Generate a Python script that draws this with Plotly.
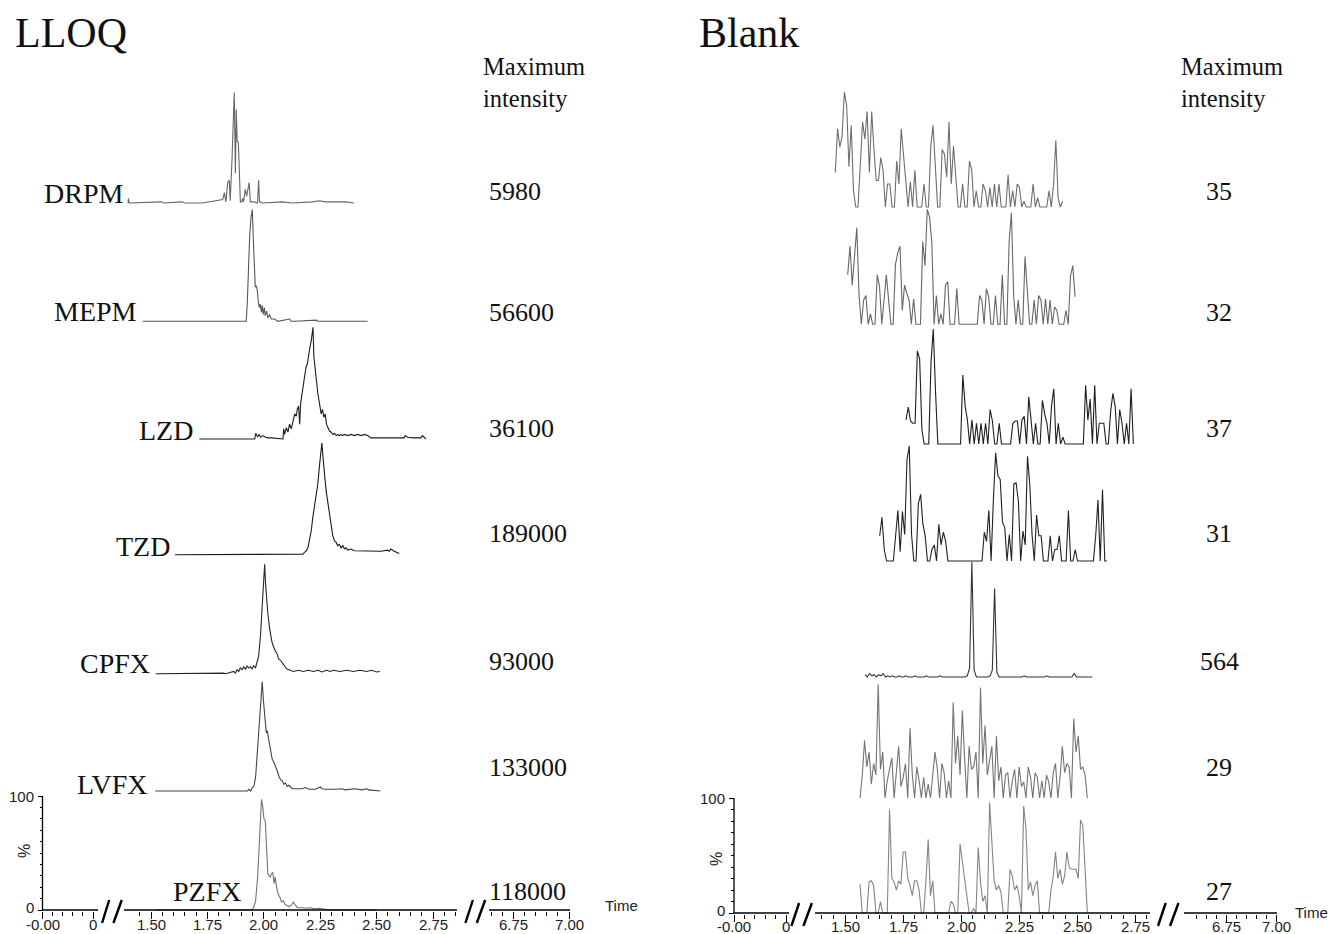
import plotly.graph_objects as go

W, H = 1336, 934
SERIF = "Liberation Serif"
SANS = "Liberation Sans"

# ---------------- data ----------------
compounds = ["DRPM", "MEPM", "LZD", "TZD", "CPFX", "LVFX", "PZFX"]
lloq_max_intensity = ["5980", "56600", "36100", "189000", "93000", "133000", "118000"]
blank_max_intensity = ["35", "32", "37", "31", "564", "29", "27"]
tick_text = ["-0.00", "0", "1.50", "1.75", "2.00", "2.25", "2.50", "2.75", "6.75", "7.00"]
mid_ticks = [1.50, 1.75, 2.00, 2.25, 2.50, 2.75]
y_tick_vals = [0, 100]
y_tick_text = ["0", "100"]

# LLOQ chromatograms: retention time (min) / relative intensity (%)
drpm_t = [1.530, 1.532, 1.535, 1.680, 1.690, 1.770, 1.780, 1.860, 1.950, 1.957, 1.964, 1.972, 1.979, 1.983,
          1.991, 1.997, 2.001, 2.006, 2.010, 2.014, 2.019, 2.023, 2.028, 2.034, 2.038, 2.042, 2.050, 2.056,
          2.061, 2.067, 2.072, 2.089, 2.104, 2.109, 2.113, 2.126, 2.215, 2.259, 2.347, 2.377, 2.406, 2.494, 2.531]
drpm_v = [0, 4, 0, 1, 0, 1, 0, 0, 3, 9, 1, 18, 20, 2, 38, 70, 97, 26, 82, 54, 53, 32, 1, 1, 4, 1, 12, 6,
          12, 18, 1, 1, 0, 20, 1, 0, 1, 0, 1, 2, 1, 1, 0]

mepm_t = [1.530, 1.989, 1.994, 1.998, 2.004, 2.010, 2.016, 2.020, 2.025, 2.029, 2.034, 2.038, 2.042, 2.047,
          2.051, 2.056, 2.060, 2.064, 2.069, 2.073, 2.079, 2.085, 2.092, 2.100, 2.115, 2.129, 2.181, 2.188,
          2.203, 2.299, 2.306, 2.527]
mepm_v = [0, 0, 18, 41, 74, 91, 98, 74, 50, 30, 31, 27, 18, 12, 15, 8, 14, 6, 12, 5, 9, 3, 6, 2, 2, 0, 2, 0,
          0, 1, 0, 0]

lzd_t = [1.530, 1.776, 1.780, 1.788, 1.795, 1.802, 1.813, 1.823, 1.835, 1.850, 1.901, 1.904, 1.908, 1.916,
         1.923, 1.930, 1.938, 1.945, 1.953, 1.960, 1.964, 1.970, 1.975, 1.979, 1.985, 1.991, 1.997, 2.003,
         2.009, 2.014, 2.020, 2.026, 2.031, 2.034, 2.038, 2.042, 2.048, 2.056, 2.063, 2.070, 2.076, 2.082,
         2.088, 2.094, 2.100, 2.107, 2.115, 2.122, 2.129, 2.137, 2.144, 2.151, 2.159, 2.166, 2.173, 2.188,
         2.203, 2.218, 2.232, 2.247, 2.262, 2.276, 2.291, 2.438, 2.443, 2.453, 2.483, 2.512, 2.519, 2.534]
lzd_v = [0, 0, 5, 2, 4, 1.5, 3, 1.5, 1, 1, 0, 9, 4, 10, 6, 13, 9, 16, 22, 20, 26, 29, 13, 31, 39, 48, 57,
         63, 66, 75, 80, 86, 92, 98, 72, 63, 51, 39, 31, 22, 26, 19, 22, 13, 10, 7, 6, 4, 5, 3, 4, 3, 4, 3,
         4, 3, 4, 3, 4, 3, 4, 3, 1, 1, 3, 1.5, 1, 1, 3, 0]

tzd_t = [1.530, 2.097, 2.104, 2.112, 2.119, 2.126, 2.134, 2.141, 2.148, 2.156, 2.163, 2.170, 2.176, 2.181,
         2.185, 2.189, 2.194, 2.200, 2.206, 2.212, 2.218, 2.223, 2.229, 2.237, 2.244, 2.251, 2.259, 2.266,
         2.274, 2.281, 2.288, 2.296, 2.311, 2.325, 2.354, 2.384, 2.413, 2.443, 2.472, 2.480, 2.487, 2.502, 2.524]
tzd_v = [0, 0.5, 2, 3.5, 6, 12, 21, 33, 42, 50, 62, 77, 91, 98, 88, 77, 68, 56, 47, 39, 30, 24, 17, 12, 11,
         8, 9, 6, 8, 5, 6, 4, 5, 3.5, 3.5, 3, 3.5, 3, 4, 3, 5, 3, 1]

cpfx_t = [1.530, 1.729, 1.736, 1.832, 1.840, 1.861, 1.876, 1.883, 1.891, 1.898, 1.905, 1.913, 1.920, 1.928,
          1.935, 1.942, 1.950, 1.957, 1.964, 1.972, 1.979, 1.986, 1.994, 2.000, 2.004, 2.009, 2.013, 2.017,
          2.022, 2.027, 2.034, 2.038, 2.044, 2.048, 2.053, 2.060, 2.067, 2.075, 2.082, 2.089, 2.097, 2.104,
          2.112, 2.119, 2.126, 2.141, 2.163, 2.185, 2.207, 2.229, 2.251, 2.266, 2.288, 2.303, 2.318, 2.347,
          2.377, 2.406, 2.435, 2.465, 2.487, 2.509, 2.524]
cpfx_v = [0, 0.5, 0, 0.5, 0, 1, 2, 0.5, 3.5, 2, 5, 3.5, 6, 4, 7, 5, 6, 4, 7, 5, 10, 15, 32, 53, 70, 85, 96,
          79, 64, 53, 41, 34, 29, 26, 23, 20, 18, 13, 12, 10, 7, 6, 4, 3.5, 3, 2, 3, 2, 3, 2, 3, 1.5, 3, 2,
          3, 2, 3, 2, 3, 2, 3, 1.5, 2]

lvfx_t = [1.530, 1.938, 1.945, 1.953, 1.960, 1.967, 1.975, 1.982, 1.989, 1.995, 2.000, 2.004, 2.009, 2.013,
          2.017, 2.022, 2.026, 2.031, 2.036, 2.042, 2.048, 2.056, 2.063, 2.070, 2.078, 2.085, 2.092, 2.100,
          2.107, 2.115, 2.122, 2.137, 2.159, 2.181, 2.196, 2.210, 2.240, 2.262, 2.269, 2.284, 2.328, 2.357,
          2.372, 2.416, 2.446, 2.468, 2.475, 2.527]
lvfx_v = [0, 0, 1.5, 0, 3, 4, 13, 34, 51, 75, 89, 96, 80, 69, 60, 51, 53, 47, 39, 34, 28, 25, 22, 18, 13,
          10, 9, 6, 7, 4, 5, 2, 2, 2, 3, 1.5, 1.5, 3.5, 2, 1.5, 1.5, 2, 1, 2, 1, 2, 1, 0]

pzfx_t = [1.530, 1.958, 1.967, 1.976, 1.985, 1.991, 1.997, 2.002, 2.008, 2.013, 2.019, 2.025, 2.030, 2.036,
          2.041, 2.047, 2.052, 2.058, 2.063, 2.069, 2.076, 2.084, 2.091, 2.099, 2.106, 2.115, 2.125, 2.134,
          2.143, 2.153, 2.162, 2.181, 2.199, 2.218, 2.236, 2.255, 2.292, 2.311, 2.515]
pzfx_v = [0, 0, 2, 8, 29, 58, 84, 97, 90, 80, 78, 58, 32, 30, 29, 32, 33, 23, 29, 20, 14, 11, 7, 8, 5, 4,
          3, 4, 7, 4, 2, 2, 1.5, 2, 1, 1.5, 0.5, 0, 0]

lloq_t = [drpm_t, mepm_t, lzd_t, tzd_t, cpfx_t, lvfx_t, pzfx_t]
lloq_v = [drpm_v, mepm_v, lzd_v, tzd_v, cpfx_v, lvfx_v, pzfx_v]

# Blank chromatograms: sampled every blank_dt min from blank_t0 (relative intensity, %)
blank_t0 = 1.55
blank_dt = 0.0098
blank1 = [30, 68, 52, 62, 100, 88, 35, 71, 14, 0,
          0, 41, 74, 59, 83, 30, 83, 50, 23, 23,
          43, 32, 0, 20, 20, 0, 0, 40, 20, 68,
          43, 26, 0, 22, 0, 32, 0, 0, 0, 20,
          0, 0, 53, 71, 35, 0, 0, 50, 46, 26,
          74, 20, 53, 29, 0, 0, 20, 0, 0, 40,
          32, 0, 14, 0, 0, 20, 14, 0, 17, 0,
          20, 0, 20, 0, 0, 0, 28, 0, 14, 0,
          20, 17, 0, 5, 0, 0, 0, 20, 0, 8,
          0, 0, 0, 0, 14, 0, 20, 58, 8, 0,
          5]
blank2 = [43, 68, 34, 62, 84, 25, 0, 21, 25, 0,
          9, 0, 0, 43, 33, 0, 25, 43, 21, 0,
          0, 52, 62, 68, 12, 34, 27, 21, 0, 22,
          0, 0, 0, 72, 51, 100, 93, 71, 0, 25,
          0, 9, 0, 34, 37, 0, 0, 0, 31, 0,
          0, 0, 0, 0, 0, 0, 0, 0, 25, 21,
          0, 31, 24, 0, 0, 25, 0, 0, 43, 0,
          0, 72, 97, 25, 0, 21, 0, 0, 59, 24,
          0, 0, 21, 0, 25, 21, 0, 22, 0, 21,
          0, 15, 12, 0, 0, 0, 12, 0, 42, 51,
          24]
blank3 = [21, 32, 20, 18, 18, 81, 74, 12, 0, 0,
          0, 71, 100, 45, 0, 0, 0, 0, 0, 0,
          0, 0, 0, 0, 0, 60, 33, 21, 0, 21,
          0, 18, 0, 18, 0, 18, 0, 30, 20, 0,
          0, 18, 0, 0, 0, 0, 0, 18, 20, 20,
          0, 21, 24, 0, 41, 21, 0, 18, 0, 0,
          38, 26, 18, 0, 33, 48, 0, 18, 0, 6,
          0, 0, 0, 0, 0, 0, 0, 0, 0, 51,
          21, 39, 0, 51, 0, 18, 18, 18, 0, 0,
          28, 44, 33, 0, 30, 18, 0, 18, 0, 48,
          0]
blank4 = [22, 38, 10, 0, 0, 0, 0, 22, 44, 8,
          43, 23, 88, 100, 23, 0, 0, 50, 58, 32,
          22, 0, 0, 10, 14, 0, 32, 14, 25, 17,
          0, 0, 0, 0, 0, 0, 0, 0, 0, 0,
          0, 0, 0, 0, 0, 0, 25, 17, 44, 0,
          53, 94, 74, 71, 34, 29, 0, 23, 0, 67,
          68, 52, 0, 26, 14, 91, 67, 23, 0, 40,
          22, 22, 0, 0, 0, 22, 0, 10, 10, 22,
          0, 0, 0, 44, 0, 0, 10, 0, 0, 0,
          0, 0, 0, 0, 0, 22, 53, 0, 62, 0,
          0]
blank5 = [2, 0, 3, 1, 2, 0, 2, 1, 3, 0,
          1, 0, 1, 0, 0, 1, 0, 0, 1, 0,
          0, 0, 1, 0, 0, 0, 0, 1, 0, 0,
          0, 0, 0, 1, 0, 0, 0, 0, 0, 0,
          0, 0, 0, 0, 0, 1, 8, 100, 6, 0,
          0, 0, 0, 0, 0, 1, 6, 77, 4, 0,
          0, 0, 0, 0, 0, 0, 0, 0, 0, 0,
          1, 0, 0, 0, 0, 0, 0, 0, 0, 0,
          1, 0, 0, 0, 0, 0, 0, 0, 0, 0,
          0, 0, 3, 0, 0, 0, 0, 0, 0, 0,
          0]
blank6 = [0, 20, 50, 27, 40, 12, 30, 20, 99, 25,
          40, 0, 15, 27, 35, 0, 20, 45, 10, 18,
          30, 0, 61, 20, 0, 27, 15, 0, 18, 0,
          12, 0, 20, 40, 25, 0, 30, 22, 0, 15,
          0, 83, 30, 54, 20, 76, 35, 0, 45, 25,
          27, 40, 0, 96, 30, 63, 20, 35, 45, 0,
          54, 15, 27, 0, 20, 22, 0, 15, 25, 0,
          27, 10, 14, 0, 27, 18, 0, 22, 18, 0,
          15, 0, 20, 14, 0, 22, 30, 0, 18, 45,
          22, 30, 27, 0, 69, 40, 54, 25, 27, 20,
          0]
blank7 = [25, 0, 0, 0, 27, 28, 24, 0, 0, 10,
          0, 0, 0, 90, 30, 27, 20, 28, 25, 53,
          53, 30, 24, 15, 28, 28, 20, 0, 0, 28,
          64, 15, 28, 0, 0, 0, 0, 0, 0, 0,
          10, 8, 0, 0, 60, 44, 28, 15, 0, 0,
          4, 0, 57, 27, 10, 15, 0, 96, 61, 28,
          20, 24, 18, 0, 0, 0, 38, 32, 20, 24,
          15, 0, 93, 73, 20, 27, 15, 24, 28, 0,
          0, 0, 0, 0, 20, 32, 53, 30, 38, 25,
          32, 53, 40, 38, 38, 38, 30, 81, 76, 38,
          0]
blank_v = [blank1, blank2, blank3, blank4, blank5, blank6, blank7]

# ---------------- layout / style ----------------
# pixel anchors: px of the 1.50 tick, px per minute, y px of 0 %, px per %
P = {
    "L": dict(px150=143.0, ppm=225.6, y0=902.0, ppp=1.14, dom=(15, 668), yax=34.5,
              outer=[34.5, 85.0, 505.6, 561.0], n_before=2,
              segs=[(34.5, 90.0), (116.0, 449.0), (481.0, 562.0)],
              breaks=[(94.1, 101.2), (105.4, 113.8), (457.4, 464.9), (468.8, 477.2)],
              mid_minor=(1.45, 2.85),
              start_px=[120, 134.7, 191.3, 167, 147.7, 147.3, 147],
              base_py=[195, 313.3, 431, 546.7, 665.7, 783, 902],
              colors=["#666666", "#575757", "#1e1e1e", "#1a1a1a", "#262626", "#444444", "#737373"],
              pct=(16, 843), timelab=(613, 897), ticklab_py=916),
    "R": dict(px150=837.0, ppm=232.0, y0=905.0, ppp=1.15, dom=(712, 1336), yax=726.0,
              outer=[726.0, 778.0, 1218.0, 1268.0], n_before=3,
              segs=[(726.0, 781.0), (807.0, 1142.0), (1176.0, 1269.0)],
              breaks=[(783.4, 791.1), (795.4, 803.9), (1150.0, 1157.7), (1162.0, 1170.5)],
              mid_minor=(1.40, 2.80),
              start_px=[827.3, 839.7, 898, 871.7, 857, 852, 852],
              base_py=[199, 316.3, 436, 553, 669, 790, 905],
              colors=["#6e6e6e", "#676767", "#1e1e1e", "#222222", "#333333", "#747474", "#858585"],
              pct=(708, 851), timelab=(1303, 904), ticklab_py=918),
}


def t_of(px, p):
    return 1.5 + (px - p["px150"]) / p["ppm"]


def fx(px):
    return px / W


def fy(py):
    return 1 - py / H


fig = go.Figure()
shapes = []
annotations = []

for key, axn in (("L", ""), ("R", "2")):
    p = P[key]
    xa, ya = "x" + axn, "y" + axn
    if key == "L":
        series = list(zip(lloq_t, lloq_v))
    else:
        bt = [blank_t0 + blank_dt * i for i in range(len(blank1))]
        series = [(bt, v) for v in blank_v]
    for k, (ts, vs) in enumerate(series):
        shift = t_of(p["start_px"][k], p) - ts[0]
        off = (p["y0"] - p["base_py"][k]) / p["ppp"]
        fig.add_trace(go.Scatter(
            x=[t + shift for t in ts], y=[v + off for v in vs], mode="lines",
            line=dict(color=p["colors"][k], width=1.1), xaxis=xa, yaxis=ya,
            showlegend=False, hoverinfo="skip"))

    o = [t_of(v, p) for v in p["outer"]]
    tickvals = o[:2] + mid_ticks + o[2:]
    minor = []
    step_l = (o[1] - o[0]) / 5
    minor += [o[0] + step_l * i for i in range(1, 5)]
    m0, m1 = p["mid_minor"]
    n = int(round((m1 - m0) / 0.05))
    minor += [round(m0 + 0.05 * i, 3) for i in range(n + 1)
              if all(abs(m0 + 0.05 * i - mt) > 1e-6 for mt in mid_ticks)]
    step_r = (o[3] - o[2]) / 5
    minor += [o[2] + step_r * i for i in range(-p["n_before"], 5) if i != 0]
    ybot = -0.8
    dom_bottom = (H - (p["y0"] - ybot * p["ppp"])) / H
    fig.update_layout(**{
        "xaxis" + axn: dict(
            domain=[fx(p["dom"][0]), fx(p["dom"][1])],
            range=[t_of(p["dom"][0], p), t_of(p["dom"][1], p)],
            anchor=ya, tickmode="array", tickvals=tickvals, showticklabels=False,
            ticks="outside", ticklen=7, tickwidth=1, tickcolor="black",
            showgrid=False, zeroline=False, showline=False,
            minor=dict(tickvals=minor, ticks="outside", ticklen=4, tickwidth=1,
                       tickcolor="black", showgrid=False)),
        "yaxis" + axn: dict(
            domain=[dom_bottom, 1], range=[ybot, p["y0"] / p["ppp"]],
            anchor="free", position=fx(p["yax"]), tickmode="array",
            tickvals=y_tick_vals, showticklabels=False, ticks="outside", ticklen=5,
            tickwidth=1, tickcolor="black",
            showgrid=False, zeroline=False, showline=False,
            minor=dict(tickvals=list(range(10, 100, 10)), ticks="outside", ticklen=3,
                       tickwidth=1, tickcolor="black", showgrid=False)),
    })

    # x tick labels
    for tv, tt in zip(tickvals, tick_text):
        annotations.append(dict(text=tt, x=tv, xref=xa, y=fy(p["ticklab_py"]), yref="paper",
                                showarrow=False, xanchor="center", yanchor="middle",
                                font=dict(family=SANS, size=15, color="#222")))
    # y tick labels
    for yv, yt in zip(y_tick_vals, y_tick_text):
        ypx = p["y0"] - yv * p["ppp"] - (3 if yv == 0 else 0)
        annotations.append(dict(text=yt, x=fx(p["yax"] - 7), y=fy(ypx), xref="paper", yref="paper",
                                showarrow=False, xanchor="right", yanchor="middle",
                                font=dict(family=SANS, size=15, color="#222")))

    # axis line segments and breaks
    yax_py = p["y0"]
    for a, b in p["segs"]:
        shapes.append(dict(type="line", xref="paper", yref="paper", x0=fx(a), x1=fx(b),
                           y0=fy(yax_py), y1=fy(yax_py), line=dict(color="black", width=1.3)))
    shapes.append(dict(type="line", xref="paper", yref="paper", x0=fx(p["yax"]), x1=fx(p["yax"]),
                       y0=fy(yax_py), y1=fy(yax_py - 100 * p["ppp"]),
                       line=dict(color="black", width=1.3)))
    for a, b in p["breaks"]:
        shapes.append(dict(type="line", xref="paper", yref="paper", x0=fx(a), x1=fx(b),
                           y0=fy(yax_py + 13), y1=fy(yax_py - 10),
                           line=dict(color="black", width=2.4)))
    annotations.append(dict(text="%", x=fx(p["pct"][0]), y=fy(p["pct"][1]), xref="paper", yref="paper",
                            showarrow=False, textangle=-90, font=dict(family=SANS, size=16, color="#222"),
                            xanchor="center", yanchor="middle"))
    annotations.append(dict(text="Time", x=fx(p["timelab"][0]), y=fy(p["timelab"][1]), xref="paper",
                            yref="paper", showarrow=False, font=dict(family=SANS, size=15, color="#222"),
                            xanchor="center", yanchor="middle"))


def ann(text, px, py, size, xanchor="left", family=SERIF):
    annotations.append(dict(text=text, x=fx(px), y=fy(py), xref="paper", yref="paper", showarrow=False,
                            xanchor=xanchor, yanchor="middle",
                            font=dict(family=family, size=size, color="#111")))


ann("LLOQ", 5, 25, 42)
ann("Blank", 689, 25, 42)
for x0 in (473, 1171):
    ann("Maximum", x0, 58, 24.5)
    ann("intensity", x0, 91, 24.5)

label_right = [117, 130.7, 187, 164, 144.3, 142.3, None]
label_py = [186, 303, 422, 538, 655, 776, 883]
for k, name in enumerate(compounds):
    if label_right[k] is None:
        ann(name, 199, label_py[k], 28, xanchor="center")
    else:
        ann(name, label_right[k], label_py[k], 28, xanchor="right")

num_py = [184, 304, 420, 525, 653, 759, 883]
for k in range(7):
    ann(lloq_max_intensity[k], 479, num_py[k], 26)
    ann(blank_max_intensity[k], 1211, num_py[k], 26, xanchor="center")

fig.update_layout(width=W, height=H, margin=dict(l=0, r=0, t=0, b=0),
                  paper_bgcolor="white", plot_bgcolor="white", showlegend=False,
                  shapes=shapes, annotations=annotations)

fig.write_html("out.html")
